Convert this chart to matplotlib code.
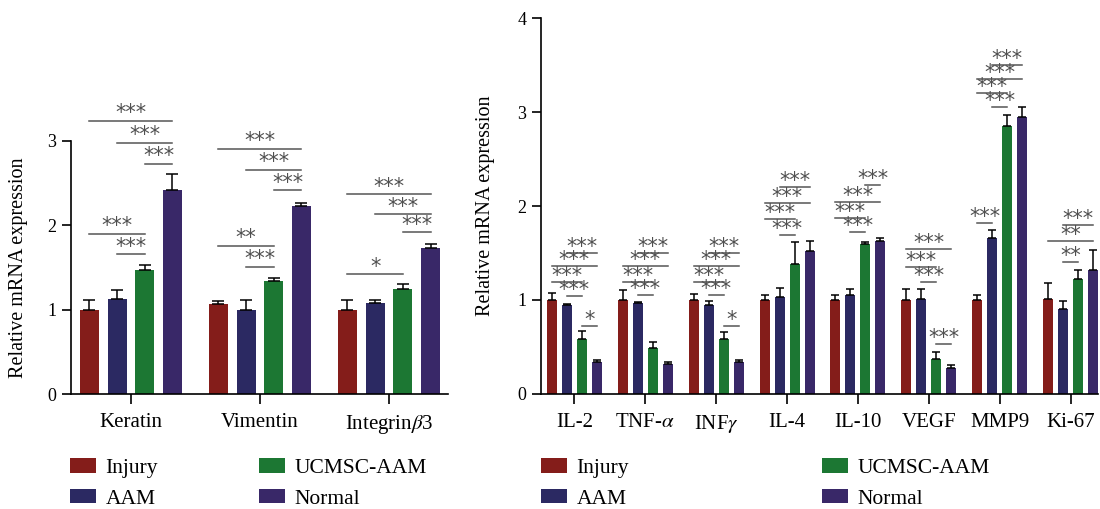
import matplotlib
matplotlib.use('Agg')
import matplotlib.pyplot as plt
import numpy as np
from matplotlib.patches import Patch
from matplotlib.transforms import blended_transform_factory

plt.rcParams['font.family'] = ['Liberation Serif', 'DejaVu Serif']
plt.rcParams['mathtext.fontset'] = 'stix'

# Groups and colours
groups = ['Injury', 'AAM', 'UCMSC-AAM', 'Normal']
colors = ['#841d1a', '#2b2962', '#1c7733', '#392868']

# Left panel data
left_genes = ['Keratin', 'Vimentin', 'Integrin$\\beta$3']
left_injury = [1.00, 1.07, 1.00]
left_aam = [1.13, 1.00, 1.08]
left_ucmsc = [1.47, 1.34, 1.25]
left_normal = [2.42, 2.23, 1.73]
left_injury_err = [0.12, 0.03, 0.12]
left_aam_err = [0.10, 0.12, 0.03]
left_ucmsc_err = [0.06, 0.03, 0.05]
left_normal_err = [0.19, 0.03, 0.05]
# (gene, bar_from, bar_to, height, label)
left_sig = [
    (0, 0, 3, 3.24, '***'), (0, 1, 3, 2.98, '***'), (0, 2, 3, 2.73, '***'),
    (0, 0, 2, 1.90, '***'), (0, 1, 2, 1.66, '***'),
    (1, 0, 3, 2.91, '***'), (1, 1, 3, 2.66, '***'), (1, 2, 3, 2.42, '***'),
    (1, 0, 2, 1.76, '**'), (1, 1, 2, 1.51, '***'),
    (2, 0, 3, 2.37, '***'), (2, 1, 3, 2.135, '***'), (2, 2, 3, 1.92, '***'),
    (2, 0, 2, 1.42, '*'),
]

# Right panel data
right_genes = ['IL-2', 'TNF-$\\alpha$', 'INF$\\gamma$', 'IL-4', 'IL-10', 'VEGF', 'MMP9', 'Ki-67']
right_injury = [1.00, 1.00, 1.00, 1.00, 1.00, 1.00, 1.00, 1.01]
right_aam = [0.94, 0.97, 0.95, 1.03, 1.05, 1.01, 1.66, 0.90]
right_ucmsc = [0.58, 0.49, 0.58, 1.38, 1.595, 0.37, 2.85, 1.22]
right_normal = [0.34, 0.32, 0.34, 1.52, 1.63, 0.27, 2.95, 1.32]
right_injury_err = [0.075, 0.10, 0.06, 0.05, 0.05, 0.12, 0.05, 0.165]
right_aam_err = [0.02, 0.01, 0.035, 0.10, 0.07, 0.11, 0.08, 0.09]
right_ucmsc_err = [0.085, 0.06, 0.08, 0.24, 0.02, 0.07, 0.115, 0.095]
right_normal_err = [0.02, 0.02, 0.02, 0.11, 0.025, 0.035, 0.105, 0.21]
right_sig = [
    (0, 1, 3, 1.502, '***'), (0, 0, 3, 1.364, '***'), (0, 0, 2, 1.193, '***'),
    (0, 1, 2, 1.04, '***'), (0, 2, 3, 0.72, '*'),
    (1, 1, 3, 1.499, '***'), (1, 0, 3, 1.364, '***'), (1, 0, 2, 1.193, '***'),
    (1, 1, 2, 1.048, '***'),
    (2, 1, 3, 1.502, '***'), (2, 0, 3, 1.364, '***'), (2, 0, 2, 1.193, '***'),
    (2, 1, 2, 1.055, '***'), (2, 2, 3, 0.72, '*'),
    (3, 1, 3, 2.206, '***'), (3, 0, 3, 2.03, '***'), (3, 0, 2, 1.861, '***'),
    (3, 1, 2, 1.694, '***'),
    (4, 2, 3, 2.22, '***'), (4, 0, 3, 2.04, '***'), (4, 0, 2, 1.872, '***'),
    (4, 1, 2, 1.719, '***'),
    (5, 0, 3, 1.538, '***'), (5, 0, 2, 1.353, '***'), (5, 1, 2, 1.186, '***'),
    (5, 2, 3, 0.526, '***'),
    (6, 1, 3, 3.506, '***'), (6, 0, 3, 3.356, '***'), (6, 0, 2, 3.204, '***'),
    (6, 1, 2, 3.051, '***'), (6, 0, 1, 1.822, '***'),
    (7, 1, 3, 1.80, '***'), (7, 0, 3, 1.623, '**'), (7, 1, 2, 1.403, '**'),
]


def draw_panel(ax, genes, means, errs, sig, step, width, capsize, ylim, ybound,
               xlim, star_off):
    x = np.arange(len(genes))
    offsets = (np.arange(4) - 1.5) * step
    for k in range(4):
        ax.bar(x + offsets[k], means[k], width, color=colors[k], zorder=2)
        ax.errorbar(x + offsets[k], means[k],
                    yerr=[np.zeros(len(genes)), errs[k]],
                    fmt='none', ecolor='black', elinewidth=1.1,
                    capsize=capsize, capthick=1.1, zorder=3)
    for g, i, j, h, lab in sig:
        x0, x1 = g + offsets[i], g + offsets[j]
        ax.plot([x0, x1], [h, h], color='#555555', lw=1.1, clip_on=False)
        ax.annotate(lab, ((x0 + x1) / 2, h), xytext=(0, star_off),
                    textcoords='offset points', ha='center', va='baseline',
                    fontsize=15, color='#505050', family='DejaVu Sans',
                    annotation_clip=False)
    ax.set_xlim(*xlim)
    ax.set_ylim(*ylim)
    ax.spines['top'].set_visible(False)
    ax.spines['right'].set_visible(False)
    ax.spines['left'].set_bounds(*ybound)
    for s in ['left', 'bottom']:
        ax.spines[s].set_linewidth(1.2)
    ax.set_xticks(x)
    ax.set_xticklabels(genes, fontsize=15)
    ax.set_yticks(np.arange(ybound[0], ybound[1] + 1))
    ax.tick_params(axis='y', labelsize=13, length=6.5, width=1.2, pad=4)
    ax.tick_params(axis='x', length=7, width=1.2, pad=7)
    ax.set_ylabel('Relative mRNA expression', fontsize=14.5)


fig = plt.figure(figsize=(11, 5.09), dpi=100)

ax1 = fig.add_axes([0.0645, 0.2259, 0.3427, 0.58])
draw_panel(ax1, left_genes,
           [left_injury, left_aam, left_ucmsc, left_normal],
           [left_injury_err, left_aam_err, left_ucmsc_err, left_normal_err],
           left_sig, 0.2147, 0.147, 4.3, (0, 3.5), (0, 3), (-0.465, 2.457), 1.0)
ax1.yaxis.set_label_coords(-0.114, 1.5,
                           transform=blended_transform_factory(ax1.transAxes, ax1.transData))

ax2 = fig.add_axes([0.4918, 0.2265, 0.5064, 0.7375])
draw_panel(ax2, right_genes,
           [right_injury, right_aam, right_ucmsc, right_normal],
           [right_injury_err, right_aam_err, right_ucmsc_err, right_normal_err],
           right_sig, 0.2116, 0.141, 2.9, (0, 4), (0, 4), (-0.47, 7.386), 0.0)
ax2.yaxis.set_label_coords(-0.0826, 0.5)

handles = [Patch(facecolor=c, edgecolor='none') for c in colors]
leg_kw = dict(ncol=2, frameon=False, fontsize=15.5, handlelength=1.2,
              handleheight=0.68, handletextpad=0.45, labelspacing=0.5,
              borderpad=0, borderaxespad=0, loc='upper left')
fig.legend(handles, groups, bbox_to_anchor=(70 / 1100, 1 - 458 / 509),
           columnspacing=4.7, **leg_kw)
fig.legend(handles, groups, bbox_to_anchor=(541 / 1100, 1 - 458 / 509),
           columnspacing=8.95, **leg_kw)

fig.savefig('out.png', dpi=100)
